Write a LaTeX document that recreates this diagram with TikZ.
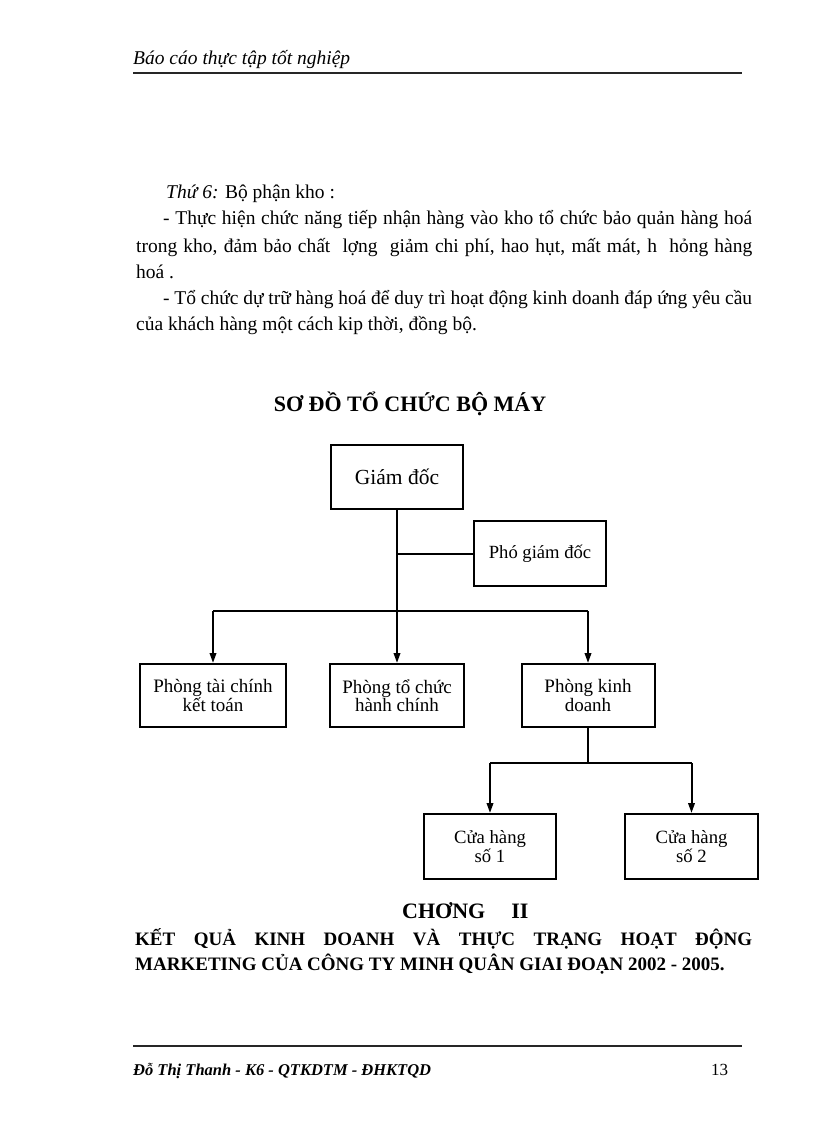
\documentclass[tikz,border=0pt]{standalone}
\usepackage{fontspec}
\setmainfont{Liberation Serif}
\usetikzlibrary{arrows.meta}
\newcommand{\fs}[2]{\fontsize{#1}{#2}\selectfont}
\tikzset{
  orgbox/.style={draw, line width=2pt, inner sep=0pt, align=center, minimum width=132pt, minimum height=64pt},
  conn/.style={line width=2pt},
  arr/.style={line width=2pt, -{Triangle[length=10pt,width=6.5pt]}},
  rule/.style={line width=1.1pt, black!85},
  txt/.style={anchor=base west, inner sep=0pt},
}
\begin{document}
\begin{tikzpicture}[x=1pt,y=-1pt]
\useasboundingbox (0,0) rectangle (816,1123);
% header / footer
\node[txt] (hdr) at (133,65) {\fs{19.5}{22}\itshape Báo cáo thực tập tốt nghiệp};
\coordinate (hl1) at (133,73); \coordinate (hl2) at (742,73);
\draw[rule] (hl1) -- (hl2);
\coordinate (fl1) at (133,1046); \coordinate (fl2) at (742,1046);
\draw[rule] (fl1) -- (fl2);
\node[txt] (ftr) at (133,1075) {\fs{16.5}{20}\bfseries\itshape Đỗ Thị Thanh - K6 - QTKDTM - ĐHKTQD};
\node[txt] (pg) at (711,1075) {\fs{17}{20}13};
% body text
\node[txt] (l1) at (166,199) {\fs{19.5}{25}\textit{Thứ 6:} Bộ phận kho :};
\node[txt] (l2) at (163,225) {\fs{19.5}{25}\makebox[589pt][s]{- Thực hiện chức năng tiếp nhận hàng vào kho tổ chức bảo quản hàng hoá}};
\node[txt] (l3) at (136,252) {\fs{19.5}{25}\makebox[616pt][s]{trong kho, đảm bảo chất\ \ lợng\ \ giảm chi phí, hao hụt, mất mát, h\ \ hỏng hàng}};
\node[txt] (l4) at (136,278) {\fs{19.5}{25}hoá .};
\node[txt] (l5) at (163,304) {\fs{19.5}{25}\makebox[589pt][s]{- Tổ chức dự trữ hàng hoá để duy trì hoạt động kinh doanh đáp ứng yêu cầu}};
\node[txt] (l6) at (136,330) {\fs{19.5}{25}của khách hàng một cách kip thời, đồng bộ.};
% title
\node[anchor=base, inner sep=0pt] (title) at (410,411) {\fs{22}{25}\bfseries SƠ ĐỒ TỔ CHỨC BỘ MÁY};
% org chart
\node[orgbox, font=\fs{21.5}{24}] (gd) at (397,477) {Giám đốc};
\node[orgbox, minimum height=65pt, font=\fs{18.6}{22}] (pho) at (540,553.5) {Phó giám đốc};
\node[orgbox, minimum width=146pt, minimum height=63pt, font=\fs{19}{17}] (p1) at (213,695.5) {Phòng tài chính\\kết toán};
\node[orgbox, minimum width=134pt, minimum height=63pt, font=\fs{19}{17}] (p2) at (397,695.5) {Phòng tổ chức\\hành chính};
\node[orgbox, minimum width=133pt, minimum height=63pt, font=\fs{19}{17}] (p3) at (588,695.5) {Phòng kinh\\doanh};
\node[orgbox, minimum height=65pt, font=\fs{18.7}{17}] (c1) at (490,846.5) {Cửa hàng\\số 1};
\node[orgbox, minimum width=133pt, minimum height=65pt, font=\fs{18.7}{17}] (c2) at (691.5,846.5) {Cửa hàng\\số 2};
\coordinate (j1) at (397,611);
\coordinate (j2) at (588,763);
\draw[conn] (gd.south) -- (j1);
\draw[conn] (pho.west) -- (pho.west -| gd.south);
\draw[conn] (p1.north |- j1) -- (p3.north |- j1);
\draw[arr] (p1.north |- j1) -- (p1.north);
\draw[arr] (j1) -- (p2.north);
\draw[arr] (p3.north |- j1) -- (p3.north);
\draw[conn] (p3.south) -- (j2);
\draw[conn] (c1.north |- j2) -- (c2.north |- j2);
\draw[arr] (c1.north |- j2) -- (c1.north);
\draw[arr] (c2.north |- j2) -- (c2.north);
% chapter heading
\node[txt] (ch) at (402,918) {\fs{22}{25}\bfseries CHƠNG\hspace{26pt}II};
\node[txt] (h1) at (135,945) {\fs{19}{25}\bfseries\makebox[617pt][s]{KẾT QUẢ KINH DOANH VÀ THỰC TRẠNG HOẠT ĐỘNG}};
\node[txt] (h2) at (135,970) {\fs{19}{25}\bfseries MARKETING CỦA CÔNG TY MINH QUÂN GIAI ĐOẠN 2002 - 2005.};
\end{tikzpicture}
\end{document}
